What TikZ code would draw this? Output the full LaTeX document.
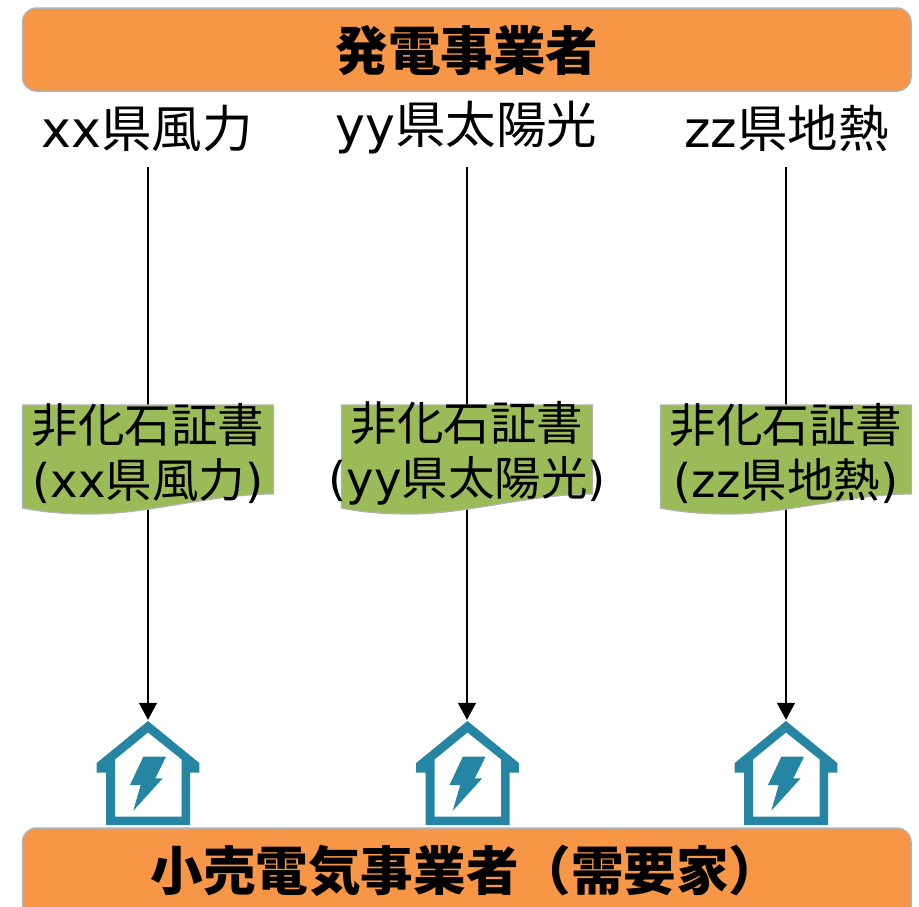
\documentclass[tikz,border=0pt]{standalone}
\usepackage{fontspec}
\setmainfont{Noto Sans CJK JP}
\newfontfamily\lat{DejaVu Sans}
\usetikzlibrary{arrows.meta}
\definecolor{bandorange}{HTML}{F79646}
\definecolor{docgreen}{HTML}{9BBB59}
\definecolor{edgegray}{HTML}{B2B2B2}
\definecolor{houseteal}{HTML}{2685A2}
\tikzset{
  x=1pt,y=-1pt,
  band/.style={fill=bandorange,draw=edgegray,line width=1.5pt,rounded corners=14pt},
  bandtext/.style={inner sep=0pt,font=\fontsize{52.6}{52.6}\selectfont\bfseries},
  source/.style={inner sep=0pt,minimum height=78pt,font=\fontsize{50.5}{50.5}\selectfont},
  doctext/.style={inner sep=0pt,align=center,font=\fontsize{46.5}{55}\selectfont},
  docshape/.style={fill=docgreen,draw=edgegray,line width=1.2pt},
  flow/.style={-{Triangle[width=18pt,length=17pt]},line width=1.4pt,black},
  housebox/.style={inner sep=0pt,minimum width=103pt,minimum height=104pt},
  pics/doc/.style={code={
    \path[docshape] (0,0) -- (251,0) -- (251,89)
      .. controls (190,89) and (125,109) .. (70,109)
      .. controls (40,109) and (20,107) .. (0,103) -- cycle;
  }},
  pics/houseicon/.style={code={
    \fill[houseteal,even odd rule]
      (0,-52) -- (51.3,-10) -- (51.3,-0.3) -- (42,-0.3) -- (42,52) -- (-42,52) -- (-42,-0.3) -- (-51.3,-0.3) -- (-51.3,-10) -- cycle
      (0,-40.5) -- (-33,-13.5) -- (-33,43.5) -- (33.7,43.5) -- (33.7,-13.5) -- cycle;
    \fill[houseteal] (-4.7,-16.3) -- (18,-16.3) -- (7.3,5.3) -- (14.7,5.3) -- (-14.7,37.7) -- (-7.3,12) -- (-18,12) -- cycle;
  }}
}
\begin{document}
\begin{tikzpicture}
\useasboundingbox (0,0) rectangle (919,906);
\clip (0,0) rectangle (919,906);

% bands
\path[band] (22.5,8) rectangle (911,91);
\node[bandtext] (prod) at (467,51) {発電事業者};
\path[band] (22.5,828) rectangle (911,960);
\node[bandtext] (retail) at (466,871) {小売電気事業者（需要家）};

% source labels
\node[source] (src1) at (147,128) {{\lat xx}県風力};
\node[source] (src2) at (466.5,128) {{\lat yy}県太陽光};
\node[source] (src3) at (786.5,128) {{\lat zz}県地熱};

% houses
\node[housebox] (house1) at (148,773) {};
\node[housebox] (house2) at (467,773) {};
\node[housebox] (house3) at (786,773) {};
\pic at (148,773) {houseicon};
\pic at (467.5,773) {houseicon};
\pic at (786,773) {houseicon};

% connectors
\draw[flow] (src1.south -| house1.north) -- ([yshift=1pt]house1.north);
\draw[flow] (src2.south -| house2.north) -- ([yshift=1pt]house2.north);
\draw[flow] (src3.south -| house3.north) -- ([yshift=1pt]house3.north);

% certificates
\pic at (22.5,405) {doc};
\pic at (341.5,405) {doc};
\pic at (660.5,405) {doc};
\node[doctext] (cert1) at (148,453) {非化石証書\\{\lat (xx}県風力{\lat )}};
\node[doctext] (cert2) at (467,453) {非化石証書\\{\lat (yy}県太陽光{\lat )}};
\node[doctext] (cert3) at (786,453) {非化石証書\\{\lat (zz}県地熱{\lat )}};
\end{tikzpicture}
\end{document}
